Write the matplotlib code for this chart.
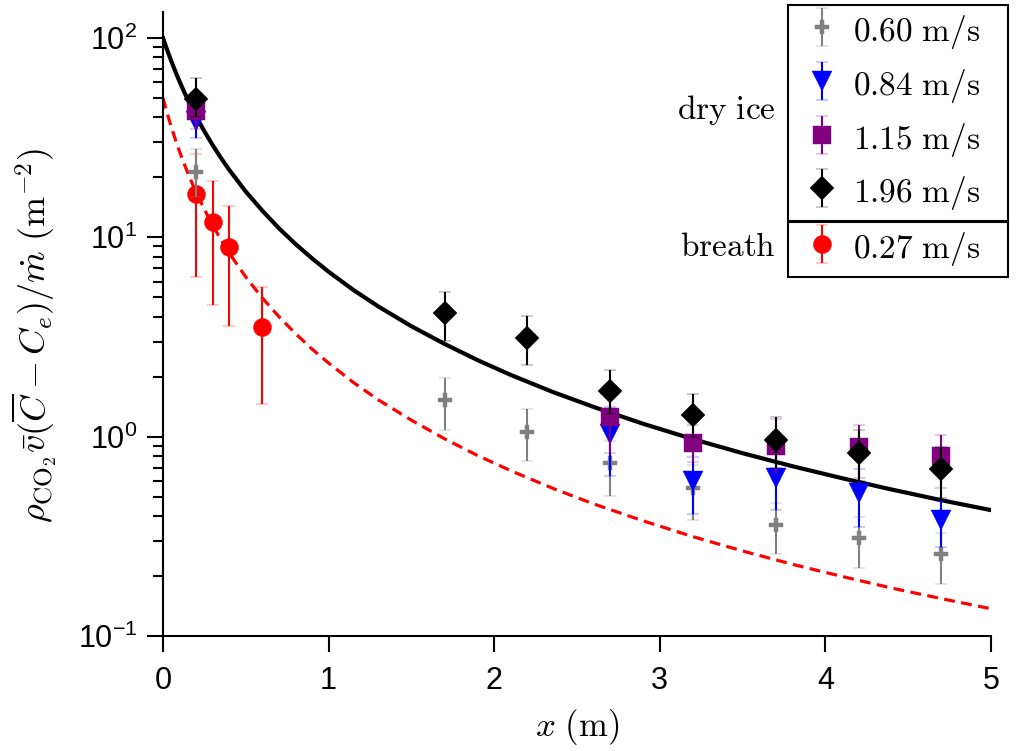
import matplotlib
matplotlib.use('Agg')
import matplotlib.pyplot as plt
import numpy as np
from matplotlib.ticker import FixedLocator, FixedFormatter, LogLocator, NullFormatter
from matplotlib.legend_handler import HandlerErrorbar
from matplotlib.container import ErrorbarContainer

plt.rcParams['font.family'] = ['Liberation Sans', 'DejaVu Sans']
plt.rcParams['mathtext.fontset'] = 'cm'

# ---------------- data ----------------
# dry ice 0.60 m/s (grey)
x_060 = [0.2, 1.7, 2.2, 2.7, 3.2, 3.7, 4.2, 4.7]
y_060 = [21.3, 1.53, 1.06, 0.74, 0.555, 0.362, 0.31, 0.259]
lo_060 = [16.0, 1.08, 0.757, 0.506, 0.383, 0.259, 0.22, 0.183]
hi_060 = [27.6, 1.98, 1.38, 0.95, 0.72, 0.467, 0.397, 0.33]

# dry ice 0.84 m/s (blue)
x_084 = [0.2, 2.7, 3.2, 3.7, 4.2, 4.7]
y_084 = [38.5, 1.03, 0.60, 0.62, 0.524, 0.38]
lo_084 = [31.6, 0.637, 0.41, 0.43, 0.354, 0.278]
hi_084 = [46.0, 1.41, 0.79, 0.82, 0.69, 0.478]

# dry ice 1.15 m/s (purple)
x_115 = [0.2, 2.7, 3.2, 3.7, 4.2, 4.7]
y_115 = [43.2, 1.25, 0.93, 0.90, 0.89, 0.80]
lo_115 = [35.0, 0.83, 0.75, 0.66, 0.62, 0.555]
hi_115 = [52.0, 1.60, 1.15, 1.23, 1.14, 1.02]

# dry ice 1.96 m/s (black)
x_196 = [0.2, 1.7, 2.2, 2.7, 3.2, 3.7, 4.2, 4.7]
y_196 = [49.7, 4.19, 3.14, 1.70, 1.29, 0.966, 0.83, 0.69]
lo_196 = [40.0, 3.03, 2.30, 1.30, 1.00, 0.70, 0.60, 0.49]
hi_196 = [63.0, 5.34, 4.05, 2.17, 1.64, 1.25, 1.08, 0.89]

# breath 0.27 m/s (red)
x_027 = [0.2, 0.3, 0.4, 0.6]
y_027 = [16.4, 11.9, 8.98, 3.56]
lo_027 = [6.3, 4.6, 3.6, 1.46]
hi_027 = [26.3, 19.2, 14.3, 5.65]

# model curves
curve_x = [0, 0.025, 0.05, 0.075, 0.1, 0.125, 0.15, 0.2, 0.25, 0.3, 0.35, 0.4,
           0.5, 0.6, 0.7, 0.8, 0.9, 1.0, 1.15, 1.3, 1.5, 1.7, 1.9, 2.1, 2.35,
           2.6, 2.9, 3.2, 3.5, 3.8, 4.1, 4.4, 4.7, 5.0]
curve_dry = [100, 87.1, 76.6, 67.8, 60.5, 54.3, 49.0, 40.5, 34.0, 29.0, 25.0,
             21.8, 16.95, 13.6, 11.1, 9.26, 7.84, 6.72, 5.44, 4.50, 3.58, 2.92,
             2.42, 2.04, 1.68, 1.41, 1.16, 0.972, 0.826, 0.711, 0.619, 0.543,
             0.480, 0.428]
curve_breath = [50, 42.0, 35.8, 30.9, 26.9, 23.7, 21.0, 16.8, 13.8, 11.5, 9.72,
                8.34, 6.32, 4.96, 4.00, 3.29, 2.75, 2.34, 1.87, 1.53, 1.21,
                0.976, 0.804, 0.675, 0.552, 0.460, 0.378, 0.315, 0.267, 0.229,
                0.199, 0.174, 0.154, 0.137]

labels_dry = [r'$0.60\ \mathrm{m/s}$', r'$0.84\ \mathrm{m/s}$',
              r'$1.15\ \mathrm{m/s}$', r'$1.96\ \mathrm{m/s}$']
label_breath = r'$0.27\ \mathrm{m/s}$'

xticks = [0, 1, 2, 3, 4, 5]
yticks = [0.1, 1, 10, 100]
ytick_labels = [r'$\mathregular{10^{-1}}$', r'$\mathregular{10^{0}}$',
                r'$\mathregular{10^{1}}$', r'$\mathregular{10^{2}}$']

# ---------------- figure ----------------
fig = plt.figure(figsize=(10.17, 7.51), dpi=100)
ax = fig.add_axes([163/1017, 115/751, 828/1017, 624/751])
ax.set_yscale('log')
ax.set_xlim(0, 5)
ax.set_ylim(0.1, 135)

ax.plot(curve_x, curve_dry, color='black', lw=3.0, zorder=2)
ax.plot(curve_x, curve_breath, color='red', lw=2.3, dashes=(3.4, 2.0), zorder=2)

def eb(x, y, lo, hi, fmt, color, ms, z):
    y = np.array(y); lo = np.array(lo); hi = np.array(hi)
    return ax.errorbar(x, y, yerr=[y - lo, hi - y], fmt=fmt, color=color,
                       ms=ms, mec=color, mew=0.3, elinewidth=1.5, capsize=4.0,
                       capthick=1.8, zorder=z)

h_red = eb(x_027, y_027, lo_027, hi_027, 'o', 'red', 13, 3)
h060 = eb(x_060, y_060, lo_060, hi_060, 'P', 'gray', 9.5, 4)
h084 = eb(x_084, y_084, lo_084, hi_084, 'v', 'blue', 14, 5)
h115 = eb(x_115, y_115, lo_115, hi_115, 's', 'purple', 13, 6)
h196 = eb(x_196, y_196, lo_196, hi_196, 'D', 'black', 12, 7)

for s in ['top', 'right']:
    ax.spines[s].set_visible(False)
for s in ['left', 'bottom']:
    ax.spines[s].set_linewidth(1.5)

ax.xaxis.set_major_locator(FixedLocator(xticks))
ax.set_xticklabels([str(t) for t in xticks])
ax.yaxis.set_major_locator(FixedLocator(yticks))
ax.yaxis.set_major_formatter(FixedFormatter(ytick_labels))
ax.yaxis.set_minor_locator(LogLocator(base=10, subs=np.arange(2, 10)))
ax.yaxis.set_minor_formatter(NullFormatter())
ax.tick_params(which='major', direction='out', length=11.5, width=1.5,
               labelsize=22)
ax.tick_params(axis='x', which='major', pad=10)
ax.tick_params(axis='y', which='major', pad=7)
ax.tick_params(which='minor', direction='out', length=7, width=1.5)

ax.set_xlabel(r'$x\ (\mathrm{m})$', fontsize=25, labelpad=8)
ax.set_ylabel(r'$\rho_{\mathrm{CO}_2}\bar{v}(\overline{C}-C_e)/\dot{m}\ (\mathrm{m}^{-2})$',
              fontsize=26)
ax.yaxis.set_label_coords(-0.125, 0.482)

hmap = {ErrorbarContainer: HandlerErrorbar(xerr_size=0.57)}
leg_kw = dict(loc='upper left', mode='expand', bbox_transform=fig.transFigure,
              fancybox=False, edgecolor='black', framealpha=1, fontsize=24,
              borderaxespad=0, handlelength=1.53, handletextpad=0.17,
              handleheight=1.15, borderpad=0.25,
              numpoints=1, handler_map=hmap)
leg1 = ax.legend([h060, h084, h115, h196], labels_dry, labelspacing=0.47,
                 bbox_to_anchor=(788/1017, 1 - 222/751, 220/1017, 217/751), **leg_kw)
leg1.get_frame().set_linewidth(1.5)
ax.add_artist(leg1)
leg2 = ax.legend([h_red], [label_breath], labelspacing=0.47,
                 bbox_to_anchor=(788/1017, 1 - 275/751, 220/1017, 53/751), **leg_kw)
leg2.get_frame().set_linewidth(1.5)

fig.text(776/1017, 1 - 110/751, r'$\mathrm{dry\ ice}$', fontsize=24,
         ha='right', va='center')
fig.text(776/1017, 1 - 248/751, r'$\mathrm{breath}$', fontsize=24,
         ha='right', va='center')

fig.savefig('out.png', dpi=100)
